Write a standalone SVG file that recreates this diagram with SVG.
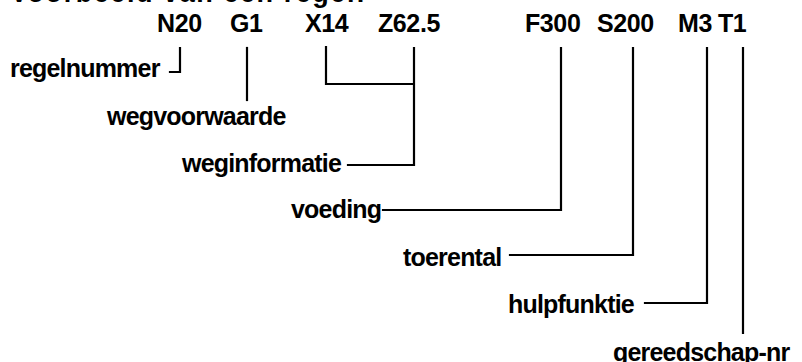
<svg xmlns="http://www.w3.org/2000/svg" width="802" height="362" viewBox="0 0 802 362">
<style>
text{font-family:"Liberation Sans",Arial,Helvetica,sans-serif;font-weight:bold;fill:#000}
.code{font-size:25px;letter-spacing:-0.4px}
.lbl{font-size:25px;letter-spacing:-0.8px}
.title{font-size:27px}
#connectors path{fill:none;stroke:#000;stroke-width:2.2;stroke-linecap:square;stroke-linejoin:miter}
</style>
<rect width="802" height="362" fill="#fff"/>
<text class="title" x="10" y="1.5" textLength="355">Voorbeeld van een regel:</text>
<g id="codes">
<text class="code" x="157" y="32">N20</text>
<text class="code" x="230" y="32">G1</text>
<text class="code" x="305" y="32">X14</text>
<text class="code" x="378" y="32">Z62.5</text>
<text class="code" x="525" y="32">F300</text>
<text class="code" x="597" y="32">S200</text>
<text class="code" x="678" y="32">M3</text>
<text class="code" x="718" y="32">T1</text>
</g>
<g id="connectors">
<path d="M180 48 V72 H170"/>
<path d="M247 48 V100"/>
<path d="M326 47 V84 H413"/>
<path d="M414 48 V165 H348"/>
<path d="M561 48 V210 H383"/>
<path d="M633 48 V255 H510"/>
<path d="M707 48 V303 H645"/>
<path d="M743 48 V333"/>
</g>
<g id="regelnummer"><text class="lbl" x="10" y="77">regelnummer</text></g>
<g id="wegvoorwaarde"><text class="lbl" x="107" y="125">wegvoorwaarde</text></g>
<g id="weginformatie"><text class="lbl" x="182" y="172">weginformatie</text></g>
<g id="voeding"><text class="lbl" x="291" y="218">voeding</text></g>
<g id="toerental"><text class="lbl" x="403" y="266">toerental</text></g>
<g id="hulpfunktie"><text class="lbl" x="508" y="313">hulpfunktie</text></g>
<g id="gereedschap-nr"><text class="lbl" x="613" y="361">gereedschap-nr</text></g>
</svg>
